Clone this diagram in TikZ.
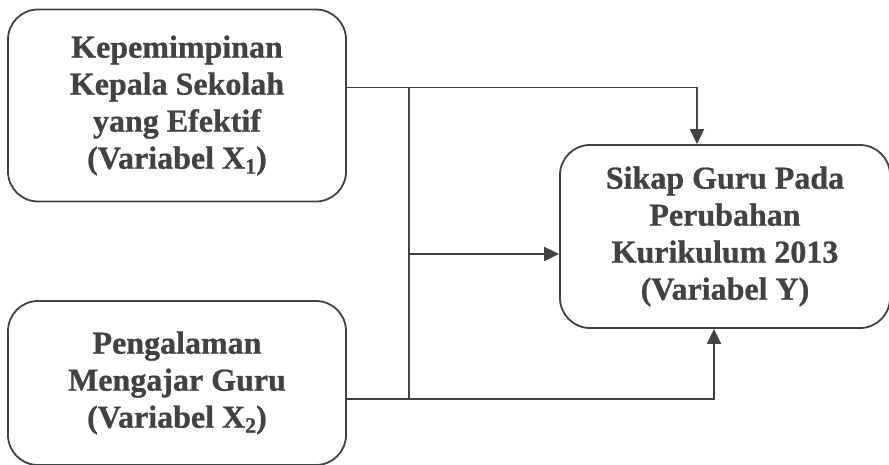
\documentclass[tikz,border=0pt]{standalone}
\usepackage{fontspec}
\setmainfont{Liberation Serif}[BoldFont={Liberation Serif Bold},BoldFeatures={FakeBold=0.8}]
\usetikzlibrary{arrows.meta}
\definecolor{ink}{HTML}{424242}
\tikzset{
  varbox/.style={draw=ink, line width=1.8pt, rounded corners=30pt, fill=white,
    inner sep=0pt, align=center, text=ink,
    font=\fontsize{32}{37}\selectfont\bfseries},
  link/.style={draw=ink, line width=1.8pt},
  linkarrow/.style={link, -{Triangle[length=15pt,width=14pt]}}
}
\newcommand{\sub}[1]{\raisebox{-5pt}{\fontsize{22}{22}\selectfont #1}}
\begin{document}
\begin{tikzpicture}[x=1pt,y=-1pt]
\useasboundingbox (0,0) rectangle (889,464);
% independent variables
\node[varbox, minimum width=338pt, minimum height=192pt] (b1) at (177,105.5)
  {Kepemimpinan\\Kepala Sekolah\\yang Efektif\\(Variabel X\sub{1})};
\node[varbox, minimum width=338pt, minimum height=164pt] (b2) at (177,383)
  {Pengalaman\\Mengajar Guru\\(Variabel X\sub{2})};
% dependent variable
\node[varbox, minimum width=330pt, minimum height=183pt] (b3) at (725,236.5)
  {Sikap Guru Pada\\Perubahan\\Kurikulum 2013\\(Variabel Y)};
% junction and bend points
\coordinate (j1) at (409,87.5);
\coordinate (j2) at (409,399);
\coordinate (jm) at (409,254);
\coordinate (t1) at (697,87.5);
\coordinate (t2) at (714,399);
% connectors
\draw[linkarrow] (b1.east |- j1) -- (t1) -- (t1 |- b3.north);
\draw[link] (j1) -- (j2);
\draw[linkarrow] (jm) -- (jm -| b3.west);
\draw[linkarrow] (b2.east |- j2) -- (t2) -- (t2 |- b3.south);
\end{tikzpicture}
\end{document}
